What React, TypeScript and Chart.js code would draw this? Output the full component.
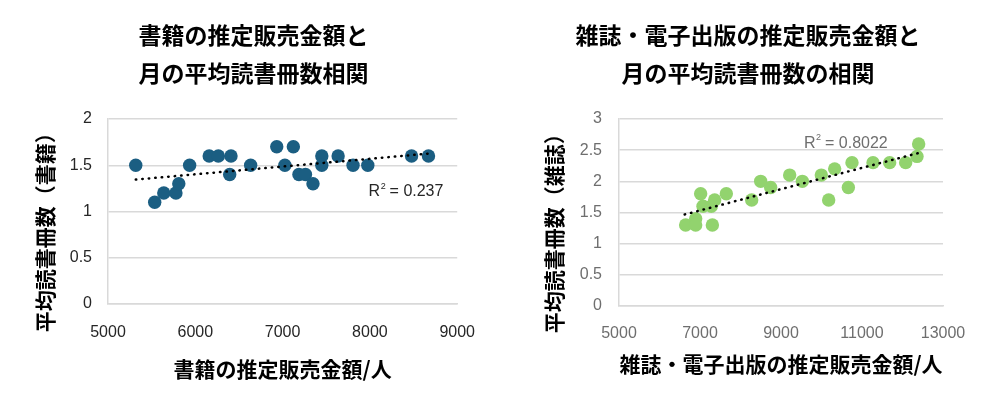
import React, { useEffect, useRef } from 'react';
import { Chart, registerables, ChartConfiguration, Plugin } from 'chart.js';

Chart.register(...registerables);

// 書籍: 推定販売金額/人 と 月の平均読書冊数
const bookSales = [5318, 5535, 5639, 5778, 5811, 5935, 6159, 6264, 6409, 6394, 6634, 6933,
  7026, 7123, 7187, 7262, 7348, 7449, 7449, 7636, 7807, 7976, 8477, 8671];
const bookReads = [1.5, 1.1, 1.2, 1.2, 1.3, 1.5, 1.6, 1.6, 1.6, 1.4, 1.5, 1.7,
  1.5, 1.7, 1.4, 1.4, 1.3, 1.6, 1.5, 1.6, 1.5, 1.5, 1.6, 1.6];
const bookTrendX = [5318, 8671];
const bookTrendY = [1.345, 1.626];
const bookXTicks = [5000, 6000, 7000, 8000, 9000];
const bookYTicks = [0, 0.5, 1, 1.5, 2];
const bookR2 = '0.237';

// 雑誌・電子出版
const magSales = [6646, 6893, 6893, 7016, 7074, 7280, 7362, 7305, 7650, 8276, 8498, 8745,
  9214, 9527, 9996, 10177, 10325, 10663, 10753, 11272, 11683, 12078, 12358, 12399];
const magReads = [1.3, 1.4, 1.3, 1.8, 1.6, 1.6, 1.7, 1.3, 1.8, 1.7, 2.0, 1.9,
  2.1, 2.0, 2.1, 1.7, 2.2, 1.9, 2.3, 2.3, 2.3, 2.3, 2.4, 2.6];
const magTrendX = [6621, 12424];
const magTrendY = [1.468, 2.459];
const magXTicks = [5000, 7000, 9000, 11000, 13000];
const magYTicks = [0, 0.5, 1, 1.5, 2, 2.5, 3];
const magR2 = '0.8022';

const CJK = '"Noto Sans CJK JP", "Noto Sans", sans-serif';
const NUM = '"Liberation Sans", Arial, sans-serif';

interface PanelProps {
  left: number;
  title: string[];
  xTitle: string;
  yTitle: string;
  xs: number[];
  ys: number[];
  trendX: number[];
  trendY: number[];
  xTicks: number[];
  yTicks: number[];
  color: string;
  tickColor: string;
  r2: string;
  r2At: [number, number];
  r2Color: string;
  padLeft: number;
  padRight: number;
  padBottom: number;
  yWidth: number;
  yTitlePad: number;
  yTickPad: number;
  xHeight: number;
  xTickPad: number;
}

const W = 484;
const H = 408;

// R² のラベル（データ座標で配置）
const r2Label = (text: string, at: [number, number], color: string): Plugin => ({
  id: 'r2Label',
  afterDatasetsDraw(chart) {
    const { ctx, scales } = chart;
    const x = scales.x.getPixelForValue(at[0]);
    const y = scales.y.getPixelForValue(at[1]);
    ctx.save();
    ctx.fillStyle = color;
    ctx.textBaseline = 'middle';
    ctx.textAlign = 'left';
    ctx.font = `16px ${NUM}`;
    ctx.fillText('R', x, y);
    const rw = ctx.measureText('R').width;
    ctx.font = `9px ${NUM}`;
    ctx.fillText('2', x + rw + 0.5, y - 6);
    ctx.font = `16px ${NUM}`;
    ctx.fillText(` = ${text}`, x + rw + 5, y);
    ctx.restore();
  },
});

const ScatterPanel: React.FC<PanelProps> = (p) => {
  const canvasRef = useRef<HTMLCanvasElement | null>(null);

  useEffect(() => {
    if (!canvasRef.current) return;

    const config: ChartConfiguration<'scatter'> = {
      type: 'scatter',
      data: {
        datasets: [
          {
            label: 'trend',
            data: p.trendX.map((x, i) => ({ x, y: p.trendY[i] })),
            showLine: true,
            borderColor: '#000000',
            borderWidth: 2.5,
            borderDash: [0.5, 6],
            borderCapStyle: 'round',
            pointRadius: 0,
            order: 0,
          },
          {
            label: 'data',
            data: p.xs.map((x, i) => ({ x, y: p.ys[i] })),
            backgroundColor: p.color,
            borderWidth: 0,
            pointRadius: 6.7,
            order: 1,
          },
        ],
      },
      options: {
        animation: false,
        responsive: false,
        layout: { padding: { left: p.padLeft, right: p.padRight, top: 0, bottom: p.padBottom } },
        plugins: {
          legend: { display: false },
          tooltip: { enabled: false },
          title: {
            display: true,
            text: p.title,
            color: '#000000',
            font: { family: CJK, size: 23, weight: 'bold', lineHeight: 38 / 23 },
            padding: { top: 16, bottom: 27 },
          },
        },
        scales: {
          x: {
            type: 'linear',
            min: p.xTicks[0],
            max: p.xTicks[p.xTicks.length - 1],
            afterBuildTicks: (scale) => {
              scale.ticks = p.xTicks.map((value) => ({ value }));
            },
            afterFit: (scale) => {
              scale.height = p.xHeight;
            },
            grid: { display: false, drawTicks: false },
            border: { display: true, color: '#d9d9d9', width: 1.5 },
            ticks: {
              color: p.tickColor,
              padding: p.xTickPad,
              maxRotation: 0,
              font: { family: NUM, size: 16 },
              callback: (v) => String(v),
            },
            title: {
              display: true,
              text: p.xTitle,
              color: '#000000',
              font: { family: CJK, size: 21, weight: 'bold', lineHeight: 1.2 },
              padding: { top: 0, bottom: 0 },
            },
          },
          y: {
            type: 'linear',
            min: p.yTicks[0],
            max: p.yTicks[p.yTicks.length - 1],
            afterBuildTicks: (scale) => {
              scale.ticks = p.yTicks.map((value) => ({ value }));
            },
            afterFit: (scale) => {
              scale.width = p.yWidth;
            },
            grid: { color: '#d9d9d9', lineWidth: 1.5, drawTicks: false },
            border: { display: true, color: '#d9d9d9', width: 1.5 },
            ticks: {
              color: p.tickColor,
              padding: p.yTickPad,
              font: { family: NUM, size: 16 },
              callback: (v) => String(v),
            },
            title: {
              display: true,
              text: p.yTitle,
              color: '#000000',
              font: { family: CJK, size: 21, weight: 'bold', lineHeight: 1.2 },
              padding: { top: p.yTitlePad, bottom: 0 },
            },
          },
        },
      },
      plugins: [r2Label(p.r2, p.r2At, p.r2Color)],
    };

    const chart = new Chart(canvasRef.current, config);
    return () => chart.destroy();
  }, [p]);

  return (
    <canvas
      ref={canvasRef}
      width={W}
      height={H}
      style={{ position: 'absolute', left: p.left, top: 0, width: W, height: H }}
    />
  );
};

const bookProps: PanelProps = {
  left: 10,
  title: ['書籍の推定販売金額と', '月の平均読書冊数相関'],
  xTitle: '書籍の推定販売金額/人',
  yTitle: '平均読書冊数（書籍）　　',
  xs: bookSales,
  ys: bookReads,
  trendX: bookTrendX,
  trendY: bookTrendY,
  xTicks: bookXTicks,
  yTicks: bookYTicks,
  color: '#1b5e82',
  tickColor: '#262626',
  r2: bookR2,
  r2At: [7985, 1.21],
  r2Color: '#262626',
  padLeft: 30,
  padRight: 27,
  padBottom: 26,
  yWidth: 68,
  yTitlePad: -7.5,
  yTickPad: 16,
  xHeight: 78,
  xTickPad: 19,
};

const magProps: PanelProps = {
  left: 506,
  title: ['雑誌・電子出版の推定販売金額と', '月の平均読書冊数の相関'],
  xTitle: '雑誌・電子出版の推定販売金額/人',
  yTitle: '平均読書冊数（雑誌）　　',
  xs: magSales,
  ys: magReads,
  trendX: magTrendX,
  trendY: magTrendY,
  xTicks: magXTicks,
  yTicks: magYTicks,
  color: '#92d36e',
  tickColor: '#6e6e6e',
  r2: magR2,
  r2At: [9568, 2.61],
  r2Color: '#6e6e6e',
  padLeft: 47,
  padRight: 47,
  padBottom: 31,
  yWidth: 66,
  yTitlePad: -11.5,
  yTickPad: 17,
  xHeight: 71,
  xTickPad: 18,
};

export default function App() {
  return (
    <div
      style={{
        position: 'fixed',
        left: 0,
        top: 0,
        width: 990,
        height: 408,
        background: '#ffffff',
        overflow: 'hidden',
      }}
    >
      <ScatterPanel {...bookProps} />
      <ScatterPanel {...magProps} />
    </div>
  );
}
